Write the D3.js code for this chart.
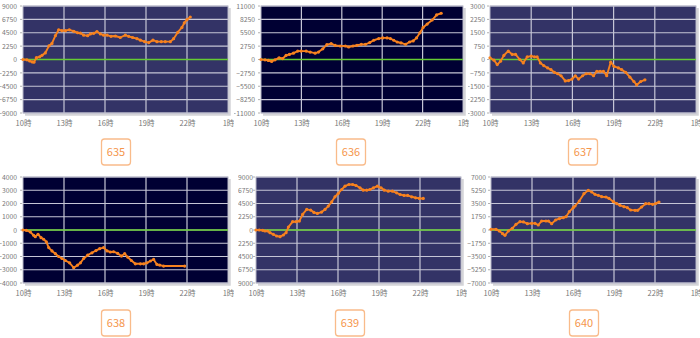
<!DOCTYPE html>
<html>
<head>
<meta charset="utf-8">
<script src="https://cdn.jsdelivr.net/npm/d3@7"></script>
<style>
  html, body { margin: 0; padding: 0; background: #fff; }
  svg { display: block; }
  text { font-family: "Noto Sans CJK JP", "Noto Sans", sans-serif; }
</style>
</head>
<body>
<svg id="chart" width="700" height="338"></svg>
<script>
// Machine numbers shown under each chart
const machines = ["635", "636", "637", "638", "639", "640"];

// Hour ticks on the x axis (25 = 1 a.m. next day)
const hourTicks = [10, 13, 16, 19, 22, 25];
const hourLabels = ["10時", "13時", "16時", "19時", "22時", "1時"];

// Symmetric y-axis limit per machine (axis split into 8 steps)
const yLimits = [9000, 11000, 3000, 4000, 9000, 7000];

// Running difference per machine: sample times (hours) and values
const t635 = [10.00,10.29,10.49,10.68,10.80,10.98,11.22,11.39,11.63,11.90,12.12,12.37,12.61,12.85,13.10,13.39,13.71,14.00,14.20,14.44,14.73,14.93,15.17,15.41,15.66,15.90,16.15,16.44,16.76,17.12,17.49,17.73,18.02,18.34,18.59,18.90,19.20,19.51,19.80,20.12,20.41,20.78,21.02,21.32,21.63,21.80,22.00,22.24];
const v635 = [0,-50,-250,-400,-450,300,450,700,1100,2300,2700,4000,5000,4850,4850,5000,4750,4500,4450,4100,4000,4300,4400,4700,4300,4100,4100,3900,3950,3700,4100,3900,3700,3500,3250,3000,2850,3250,3000,3000,3000,3000,3500,4550,5400,6150,6700,7150];

const t636 = [10.00,10.30,10.55,10.79,11.04,11.34,11.61,11.86,12.11,12.41,12.73,12.98,13.35,13.65,14.02,14.27,14.59,14.89,15.21,15.51,15.88,16.26,16.51,16.83,17.13,17.45,17.75,18.07,18.37,18.74,19.04,19.36,19.61,19.86,20.11,20.40,20.73,21.03,21.30,21.55,21.80,22.04,22.34,22.71,23.04,23.38];
const v636 = [0,-70,-200,-400,-70,350,200,830,1040,1300,1730,1730,1730,1530,1300,1530,2200,3050,3260,2900,2780,2780,2570,2780,2920,3120,3120,3470,3960,4300,4440,4440,4300,3960,3600,3400,3120,3600,3820,4440,5480,6590,7290,8120,9170,9510];

const t637 = [10.00,10.29,10.53,10.77,11.01,11.33,11.62,11.86,12.17,12.42,12.71,13.00,13.24,13.43,13.67,13.91,14.20,14.44,14.69,14.93,15.17,15.48,15.72,15.97,16.21,16.45,16.74,17.00,17.29,17.54,17.78,18.02,18.26,18.50,18.79,19.03,19.35,19.59,19.88,20.19,20.48,20.68,20.97,21.28];
const v637 = [95,-40,-285,-95,230,475,285,285,0,-190,150,190,150,150,-190,-340,-475,-570,-720,-800,-910,-1200,-1180,-1100,-910,-1100,-910,-800,-800,-910,-665,-665,-665,-910,-150,-380,-475,-570,-720,-990,-1235,-1425,-1235,-1140];

const t638 = [10.00,10.24,10.54,10.78,10.90,11.10,11.32,11.51,11.71,11.88,12.12,12.37,12.61,12.85,13.10,13.41,13.71,14.00,14.20,14.44,14.73,15.05,15.34,15.61,15.90,16.15,16.39,16.63,16.93,17.20,17.44,17.66,17.93,18.22,18.59,18.83,19.07,19.32,19.56,19.80,20.00,20.29,21.83];
const v638 = [0,-25,-150,-400,-500,-330,-580,-700,-900,-1330,-1580,-1790,-2000,-2150,-2300,-2480,-2850,-2650,-2480,-2150,-1900,-1720,-1550,-1410,-1330,-1580,-1660,-1640,-1770,-1970,-1790,-2040,-2300,-2550,-2550,-2550,-2480,-2340,-2220,-2600,-2650,-2720,-2720];

const t639 = [10.00,10.24,10.49,10.66,10.85,11.02,11.27,11.51,11.76,12.00,12.20,12.37,12.68,12.93,13.17,13.41,13.71,14.00,14.24,14.49,14.80,15.05,15.29,15.54,15.78,16.02,16.27,16.51,16.80,17.07,17.32,17.61,17.85,18.10,18.34,18.59,18.88,19.15,19.39,19.68,19.98,20.29,20.54,20.83,21.10,21.39,21.68,21.95,22.24];
const v639 = [0,0,-60,-170,-170,-450,-730,-1015,-1130,-850,-450,500,1410,1410,1520,2650,3500,3385,2990,2820,3050,3500,4060,4790,5640,6200,6880,7440,7730,7730,7560,7160,6770,6770,6880,7160,7440,7160,6770,6600,6600,6320,6030,5870,5870,5640,5470,5360,5360];

const t640 = [10.00,10.37,10.61,10.85,11.02,11.27,11.56,11.83,12.12,12.37,12.66,12.98,13.22,13.46,13.71,14.02,14.20,14.44,14.73,15.00,15.29,15.49,15.73,16.02,16.15,16.46,16.80,17.12,17.37,17.61,17.85,18.10,18.41,18.63,18.95,19.20,19.44,19.73,19.98,20.22,20.54,20.73,21.02,21.32,21.56,21.83,22.07,22.29];
const v640 = [90,90,-130,-480,-700,-130,220,750,1100,1060,840,880,880,660,1190,1190,1190,840,1320,1500,1630,1760,2420,2950,3170,3830,4800,5240,5020,4710,4580,4400,4360,4180,3740,3480,3260,3080,2950,2640,2600,2600,3040,3480,3480,3390,3520,3700];

const seriesTimes = [t635, t636, t637, t638, t639, t640];
const seriesValues = [v635, v636, v637, v638, v639, v640];

// Panel geometry and styling (gap = space between y labels and plot)
const panels = [
  { x0: 23,  x1: 228, y0: 6,   y1: 113, bg: "#333366", clipX: 0,   gap: 6, box: [116, 152] },
  { x0: 261, x1: 463, y0: 6,   y1: 113, bg: "#000033", clipX: 234, gap: 6, box: [351, 152] },
  { x0: 490, x1: 696, y0: 6,   y1: 113, bg: "#333366", clipX: 468, gap: 5, box: [583, 152] },
  { x0: 23,  x1: 228, y0: 177, y1: 283, bg: "#000033", clipX: 0,   gap: 6, box: [116, 323] },
  { x0: 256, x1: 461, y0: 177, y1: 283, bg: "#333366", clipX: 238, gap: 3, box: [350, 323] },
  { x0: 491, x1: 696, y0: 177, y1: 283, bg: "#333366", clipX: 464, gap: 5, box: [584, 323] }
];

const svg = d3.select("#chart");
const defs = svg.append("defs");

panels.forEach((p, i) => {
  const clipId = "clip" + i;
  const colRight = i % 3 === 2 ? 700 : p.x1 + 6;
  defs.append("clipPath").attr("id", clipId)
    .append("rect")
    .attr("x", p.clipX).attr("y", p.y0 - 8)
    .attr("width", colRight - p.clipX).attr("height", p.y1 - p.y0 + 30);

  const g = svg.append("g").attr("clip-path", `url(#${clipId})`);

  const x = d3.scaleLinear().domain([10, 25]).range([p.x0, p.x1]);
  const lim = yLimits[i];
  const y = d3.scaleLinear().domain([-lim, lim]).range([p.y1, p.y0]);
  const yTicks = d3.range(-lim, lim + 1, lim / 4);

  // drop shadow on the right and bottom of the plot frame
  g.append("path")
    .attr("d", `M${p.x1 + 1.5},${p.y0 + 2} V${p.y1 + 1.5} H${p.x0 + 2}`)
    .attr("fill", "none").attr("stroke", "#d4d4d8").attr("stroke-width", 2.5);

  g.append("rect")
    .attr("x", p.x0).attr("y", p.y0)
    .attr("width", p.x1 - p.x0).attr("height", p.y1 - p.y0)
    .attr("fill", p.bg);

  // horizontal grid lines
  g.append("g").selectAll("line").data(yTicks).join("line")
    .attr("x1", p.x0).attr("x2", p.x1)
    .attr("y1", d => y(d)).attr("y2", d => y(d))
    .attr("stroke", "#c6c6d6").attr("stroke-width", 1.2);

  // vertical grid lines
  g.append("g").selectAll("line").data(hourTicks.slice(1, -1)).join("line")
    .attr("x1", d => x(d)).attr("x2", d => x(d))
    .attr("y1", p.y0).attr("y2", p.y1)
    .attr("stroke", "#c6c6d6").attr("stroke-width", 1.2);

  // plot frame
  g.append("rect")
    .attr("x", p.x0).attr("y", p.y0)
    .attr("width", p.x1 - p.x0).attr("height", p.y1 - p.y0)
    .attr("fill", "none").attr("stroke", "#b8b8c8").attr("stroke-width", 1);

  // y axis labels
  const yAxis = d3.axisLeft(y).tickValues(yTicks).tickSize(0).tickPadding(p.gap)
    .tickFormat(d3.format("d"));
  const ya = g.append("g").attr("transform", `translate(${p.x0},0)`).call(yAxis);
  ya.select(".domain").remove();
  ya.selectAll(".tick text").attr("fill", "#777").attr("font-size", 6.8);
  // short tick marks beside the plot
  g.append("g").selectAll("line").data(yTicks).join("line")
    .attr("x1", p.x0 - 3).attr("x2", p.x0 - 1)
    .attr("y1", d => y(d)).attr("y2", d => y(d))
    .attr("stroke", "#b0b0b0").attr("stroke-width", 1);

  // x axis labels
  const xAxis = d3.axisBottom(x).tickValues(hourTicks).tickSize(0).tickPadding(8)
    .tickFormat((d, k) => hourLabels[k]);
  const xa = g.append("g").attr("transform", `translate(0,${p.y1})`).call(xAxis);
  xa.select(".domain").remove();
  xa.selectAll(".tick text").attr("fill", "#777").attr("font-size", 7.5);

  // zero line
  g.append("line")
    .attr("x1", p.x0).attr("x2", p.x1)
    .attr("y1", y(0)).attr("y2", y(0))
    .attr("stroke", "#66cc33").attr("stroke-width", 1.6);

  // series line with point markers
  const pts = seriesTimes[i].map((t, k) => [t, seriesValues[i][k]]);
  g.append("path")
    .datum(pts)
    .attr("d", d3.line().x(d => x(d[0])).y(d => y(d[1])))
    .attr("fill", "none").attr("stroke", "#f7821f").attr("stroke-width", 1.9)
    .attr("stroke-linejoin", "round");
  g.append("g").selectAll("circle").data(pts).join("circle")
    .attr("cx", d => x(d[0])).attr("cy", d => y(d[1]))
    .attr("r", 1.6).attr("fill", "#f7821f");

  // machine number badge
  const [bx, by] = p.box;
  svg.append("rect")
    .attr("x", bx - 14.5).attr("y", by - 13)
    .attr("width", 29).attr("height", 26).attr("rx", 3)
    .attr("fill", "#fff").attr("stroke", "#f9bb8a").attr("stroke-width", 1.3);
  svg.append("text")
    .attr("x", bx).attr("y", by + 4)
    .attr("text-anchor", "middle")
    .attr("font-size", 11).attr("fill", "#f5964c")
    .text(machines[i]);
});
</script>
</body>
</html>
